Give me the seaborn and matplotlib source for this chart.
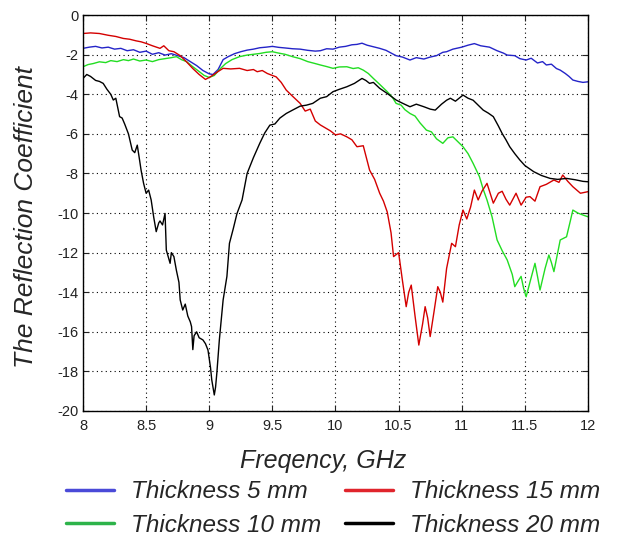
import numpy as np
import pandas as pd
import seaborn as sns
import matplotlib.pyplot as plt

# Thickness 5 mm
f5 = [8.00, 8.05, 8.10, 8.15, 8.20, 8.25, 8.30, 8.35, 8.40, 8.45,
      8.50, 8.55, 8.60, 8.65, 8.70, 8.75, 8.80, 8.85, 8.90, 8.95,
      9.00, 9.03, 9.07, 9.11, 9.15, 9.20, 9.25, 9.30, 9.35, 9.40,
      9.45, 9.50, 9.55, 9.60, 9.66, 9.72, 9.78, 9.84, 9.88, 9.93,
      9.98, 10.03, 10.08, 10.13, 10.17, 10.21, 10.25, 10.30, 10.35, 10.40,
      10.45, 10.48, 10.53, 10.59, 10.64, 10.70, 10.75, 10.80, 10.85, 10.88,
      10.93, 11.00, 11.05, 11.10, 11.15, 11.22, 11.28, 11.33, 11.36, 11.42,
      11.46, 11.51, 11.55, 11.60, 11.64, 11.67, 11.71, 11.75, 11.78, 11.82,
      11.85, 11.88, 11.92, 11.96, 12.00]
r5 = [-1.68, -1.62, -1.58, -1.66, -1.62, -1.72, -1.68, -1.80, -1.75, -1.88,
      -1.82, -1.98, -1.90, -2.02, -1.95, -2.05, -2.15, -2.35, -2.55, -2.80,
      -2.97, -3.00, -2.75, -2.25, -2.10, -1.95, -1.85, -1.77, -1.72, -1.65,
      -1.62, -1.58, -1.63, -1.66, -1.70, -1.72, -1.78, -1.82, -1.80, -1.70,
      -1.72, -1.62, -1.58, -1.50, -1.48, -1.42, -1.52, -1.60, -1.68, -1.78,
      -1.95, -2.05, -2.12, -2.27, -2.15, -2.22, -2.12, -2.05, -1.88, -1.85,
      -1.72, -1.62, -1.52, -1.44, -1.55, -1.62, -1.80, -1.92, -2.02, -2.05,
      -2.20, -2.27, -2.18, -2.42, -2.35, -2.52, -2.48, -2.70, -2.78, -2.95,
      -3.10, -3.28, -3.35, -3.40, -3.37]

# Thickness 10 mm
f10 = [8.00, 8.04, 8.08, 8.13, 8.18, 8.22, 8.27, 8.32, 8.36, 8.40,
       8.45, 8.50, 8.55, 8.60, 8.65, 8.70, 8.74, 8.78, 8.82, 8.87,
       8.92, 8.96, 9.00, 9.04, 9.09, 9.13, 9.18, 9.24, 9.30, 9.35,
       9.40, 9.45, 9.50, 9.55, 9.60, 9.66, 9.72, 9.78, 9.84, 9.88,
       9.93, 9.98, 10.03, 10.09, 10.14, 10.18, 10.22, 10.26, 10.30, 10.35,
       10.41, 10.45, 10.48, 10.52, 10.55, 10.59, 10.63, 10.67, 10.72, 10.76,
       10.80, 10.85, 10.89, 10.93, 10.97, 11.01, 11.05, 11.09, 11.14, 11.17,
       11.20, 11.24, 11.28, 11.32, 11.36, 11.40, 11.42, 11.45, 11.47, 11.49,
       11.51, 11.54, 11.58, 11.60, 11.62, 11.66, 11.69, 11.71, 11.73, 11.76,
       11.78, 11.83, 11.86, 11.88, 11.92, 11.96, 12.00]
r10 = [-2.61, -2.50, -2.45, -2.36, -2.40, -2.30, -2.35, -2.25, -2.30, -2.22,
       -2.32, -2.27, -2.35, -2.25, -2.20, -2.15, -2.10, -2.25, -2.35, -2.61,
       -2.85, -3.05, -3.15, -3.05, -2.69, -2.45, -2.25, -2.10, -2.02, -1.98,
       -1.94, -1.88, -1.85, -1.92, -1.98, -2.10, -2.20, -2.35, -2.45, -2.52,
       -2.60, -2.69, -2.62, -2.61, -2.70, -2.66, -2.78, -2.95, -3.20, -3.50,
       -3.87, -4.15, -4.46, -4.55, -4.78, -4.97, -5.10, -5.45, -5.81, -5.90,
       -6.25, -6.48, -6.20, -6.15, -6.40, -6.65, -7.00, -7.49, -8.16, -8.80,
       -9.34, -10.19, -11.36, -11.90, -12.37, -13.10, -13.72, -13.40, -13.20, -13.80,
       -14.23, -13.50, -12.54, -13.20, -13.89, -12.80, -12.12, -12.50, -12.96, -12.00,
       -11.36, -11.20, -10.40, -9.85, -10.00, -10.10, -10.19]

# Thickness 15 mm
f15 = [8.00, 8.06, 8.13, 8.20, 8.26, 8.32, 8.37, 8.42, 8.46, 8.50,
       8.55, 8.61, 8.64, 8.68, 8.72, 8.77, 8.82, 8.87, 8.92, 8.97,
       9.00, 9.03, 9.07, 9.11, 9.17, 9.24, 9.30, 9.35, 9.38, 9.42,
       9.46, 9.50, 9.53, 9.57, 9.61, 9.66, 9.72, 9.76, 9.80, 9.84,
       9.88, 9.92, 9.96, 10.00, 10.04, 10.09, 10.13, 10.17, 10.22, 10.27,
       10.31, 10.35, 10.38, 10.41, 10.44, 10.46, 10.50, 10.53, 10.56, 10.58,
       10.60, 10.63, 10.66, 10.69, 10.71, 10.73, 10.75, 10.78, 10.81, 10.83,
       10.85, 10.88, 10.92, 10.95, 10.98, 11.01, 11.04, 11.07, 11.10, 11.13,
       11.16, 11.20, 11.25, 11.29, 11.32, 11.35, 11.38, 11.43, 11.47, 11.51,
       11.54, 11.58, 11.62, 11.67, 11.73, 11.77, 11.80, 11.84, 11.88, 11.94,
       12.00]
r15 = [-0.93, -0.90, -0.93, -1.02, -1.08, -1.18, -1.22, -1.30, -1.35, -1.43,
       -1.55, -1.68, -1.55, -1.80, -1.85, -2.05, -2.36, -2.70, -3.00, -3.25,
       -3.15, -3.03, -2.85, -2.69, -2.72, -2.69, -2.80, -2.75, -2.86, -2.80,
       -2.95, -3.05, -3.12, -3.40, -3.79, -4.10, -4.46, -4.85, -4.75, -5.35,
       -5.55, -5.70, -5.85, -6.05, -6.00, -6.15, -6.30, -6.65, -6.60, -7.83,
       -8.30, -9.00, -9.40, -9.95, -11.00, -12.20, -12.00, -13.40, -14.73, -14.00,
       -13.64, -15.20, -16.67, -15.60, -14.73, -15.30, -16.24, -15.00, -13.72, -14.00,
       -14.50, -12.80, -11.53, -11.70, -10.60, -9.85, -10.30, -9.70, -8.84, -9.34,
       -8.90, -8.50, -9.50, -9.00, -8.90, -9.30, -9.60, -9.00, -9.60, -9.20,
       -9.17, -9.40, -8.67, -8.55, -8.33, -8.45, -8.08, -8.40, -8.67, -9.00,
       -8.92]

# Thickness 20 mm
f20 = [8.00, 8.03, 8.06, 8.10, 8.13, 8.16, 8.19, 8.22, 8.24, 8.26,
       8.29, 8.31, 8.33, 8.36, 8.39, 8.41, 8.43, 8.45, 8.46, 8.48,
       8.50, 8.52, 8.54, 8.56, 8.58, 8.60, 8.61, 8.63, 8.65, 8.66,
       8.69, 8.70, 8.72, 8.74, 8.76, 8.77, 8.79, 8.81, 8.83, 8.85,
       8.86, 8.87, 8.88, 8.90, 8.92, 8.95, 8.97, 8.99, 9.01, 9.02,
       9.04, 9.05, 9.06, 9.08, 9.11, 9.14, 9.16, 9.19, 9.22, 9.26,
       9.30, 9.35, 9.40, 9.44, 9.48, 9.52, 9.56, 9.61, 9.66, 9.72,
       9.77, 9.82, 9.88, 9.93, 9.98, 10.03, 10.09, 10.15, 10.21, 10.24,
       10.27, 10.30, 10.35, 10.41, 10.44, 10.48, 10.53, 10.59, 10.64, 10.70,
       10.75, 10.79, 10.84, 10.88, 10.91, 10.95, 11.01, 11.05, 11.09, 11.13,
       11.17, 11.21, 11.25, 11.29, 11.32, 11.35, 11.38, 11.42, 11.46, 11.50,
       11.57, 11.63, 11.70, 11.76, 11.83, 11.90, 11.96, 12.00]
r20 = [-3.20, -3.00, -3.10, -3.30, -3.35, -3.45, -3.75, -4.00, -4.29, -4.20,
       -5.13, -5.20, -5.50, -6.00, -6.82, -6.95, -6.57, -7.40, -7.83, -8.50,
       -9.00, -8.84, -9.34, -10.20, -10.94, -10.50, -10.40, -10.60, -10.02, -11.87,
       -12.54, -12.00, -12.20, -12.90, -13.50, -14.39, -14.90, -14.60, -15.20, -15.50,
       -15.74, -16.90, -16.20, -16.00, -16.30, -16.41, -16.60, -16.92, -17.80, -18.43,
       -19.19, -18.80, -18.10, -16.41, -14.39, -13.20, -11.53, -10.80, -10.02, -9.34,
       -8.00, -7.20, -6.48, -5.95, -5.56, -5.50, -5.20, -4.97, -4.80, -4.60,
       -4.55, -4.46, -4.20, -4.12, -3.87, -3.75, -3.62, -3.45, -3.20, -3.30,
       -3.45, -3.40, -3.70, -3.96, -4.10, -4.29, -4.45, -4.63, -4.50, -4.63,
       -4.75, -4.80, -4.50, -4.30, -4.20, -4.35, -4.04, -4.20, -4.30, -4.55,
       -4.80, -4.95, -5.13, -5.60, -5.98, -6.30, -6.65, -7.00, -7.32, -7.60,
       -7.91, -8.10, -8.25, -8.30, -8.25, -8.32, -8.40, -8.42]

labels = ["Thickness 5 mm", "Thickness 10 mm", "Thickness 15 mm", "Thickness 20 mm"]
line_colors = ["#2424c8", "#22dd22", "#d40000", "#000000"]
legend_colors = ["#4a4ad8", "#2db34a", "#e0242c", "#000000"]

frames = []
for lab, f, r in zip(labels, [f5, f10, f15, f20], [r5, r10, r15, r20]):
    frames.append(pd.DataFrame({"freq": f, "refl": r, "series": lab}))
df = pd.concat(frames, ignore_index=True)

sns.set_style("ticks")
plt.rcParams['font.family'] = ['Liberation Sans', 'DejaVu Sans']

fig = plt.figure(figsize=(6.17, 5.39), dpi=100)
ax = fig.add_axes([0.1345, 0.2375, 0.8185, 0.7345])

sns.lineplot(data=df, x="freq", y="refl", hue="series", hue_order=labels,
             palette=dict(zip(labels, line_colors)), estimator=None, sort=False,
             linewidth=1.0, ax=ax, legend=True)

ax.set_xlim(8, 12)
ax.set_ylim(-20, 0)
ax.set_xticks(np.arange(8, 12.01, 0.5))
ax.set_xticklabels(["8", "8.5", "9", "9.5", "10", "10.5", "11", "11.5", "12"])
ax.set_yticks(np.arange(-20, 0.1, 2))
ax.set_yticklabels([str(v) for v in range(-20, 1, 2)])
ax.grid(True, linestyle=(0, (1, 3)), color="black", linewidth=0.8)
ax.tick_params(direction="in", top=True, right=True, labelsize=10.5, length=4,
               colors="#222222")
ax.tick_params(axis="x", pad=6)
for sp in ax.spines.values():
    sp.set_visible(True)
    sp.set_linewidth(1.0)
    sp.set_color("black")

ax.set_xlabel("Freqency, GHz", fontsize=18, fontstyle="italic")
ax.xaxis.set_label_coords(0.475, -0.095)
ax.set_ylabel("The Reflection Coefficient", fontsize=19, fontstyle="italic")
ax.yaxis.set_label_coords(-0.09, 0.49)

ax.get_legend().remove()
handles, _ = ax.get_legend_handles_labels()
leg = fig.legend(handles[:4], labels, ncol=2, frameon=False,
                 loc="lower center", bbox_to_anchor=(0.54, -0.036),
                 prop={"size": 17.5, "style": "italic"},
                 handlelength=1.95, handletextpad=0.7, columnspacing=1.0,
                 labelspacing=0.42)
for h, c in zip(leg.legend_handles, legend_colors):
    h.set_color(c)
    h.set_linewidth(2.5)

fig.savefig("out.png", dpi=100)
